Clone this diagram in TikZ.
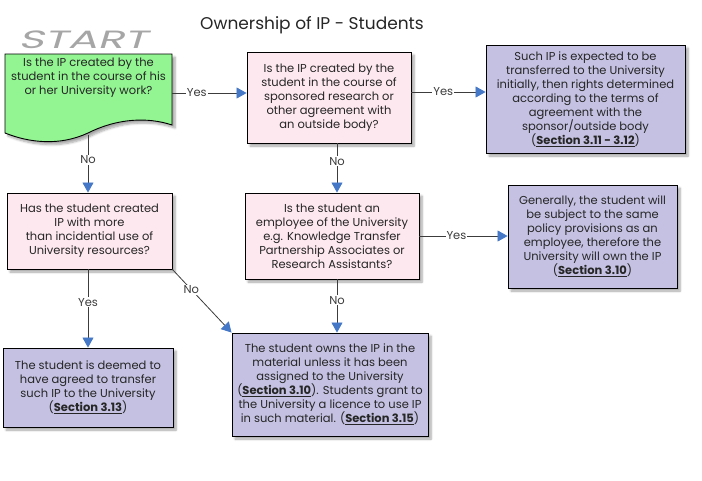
\documentclass[tikz,border=0pt]{standalone}
\usepackage{fontspec}
\setmainfont{Poppins}
\newfontfamily\startfont[FakeSlant=0.3,FakeStretch=1.75]{Poppins}
\usetikzlibrary{arrows.meta,shadows.blur}
\definecolor{startgreen}{RGB}{146,245,146}
\definecolor{qpink}{RGB}{253,232,239}
\definecolor{apurple}{RGB}{196,193,226}
\definecolor{tipblue}{RGB}{70,120,200}
\definecolor{linegray}{RGB}{60,60,60}
\newcommand{\ipsec}[1]{\underline{\textbf{#1}}}
\tikzset{
  boxtext/.style={inner sep=2pt, align=center, text=black!85,
    font=\fontsize{11.5}{14}\selectfont},
  myshadow/.style={blur shadow={shadow xshift=3pt, shadow yshift=-3pt,
    shadow blur steps=6, shadow opacity=35}},
  box/.style={boxtext, draw=black, line width=0.9pt, myshadow},
  question/.style={box, fill=qpink},
  answer/.style={box, fill=apurple},
  flow/.style={draw=linegray, line width=0.8pt,
    -{Triangle[length=10pt,width=11pt,color=tipblue,fill=tipblue]}},
  lbl/.style={fill=white, inner sep=1pt, text=linegray,
    font=\fontsize{11.5}{13}\selectfont},
}
\begin{document}
\begin{tikzpicture}[x=1pt,y=-1pt]
\useasboundingbox (0,0) rectangle (702,480);
% titolo
\node[font=\fontsize{17}{20}\selectfont, text=black!85] (title) at (312,25) {Ownership of IP - Students};
\node[font=\startfont\fontsize{25}{25}\selectfont, text=gray!70] (startlbl) at (83,40) {START};
% inizio
\path[draw=black, line width=0.9pt, fill=startgreen, myshadow]
  (5,54) -- (172,54) -- (172,125)
  .. controls (148,117) and (118,118) .. (88,133)
  .. controls (60,146) and (30,143) .. (5,133) -- cycle;
\node[boxtext, anchor=north, minimum width=167pt] (start) at (88.5,56)
  {Is the IP created by the\\student in the course of his\\or her University work?};
\coordinate (startb) at (88,135);
% domande
\node[question, minimum width=164pt, minimum height=91pt] (sponsor) at (329,97.5)
  {Is the IP created by the\\student in the course of\\sponsored research or\\other agreement with\\an outside body?};
\node[question, minimum width=165pt, minimum height=76pt] (resources) at (89.5,231)
  {Has the student created\\IP with more\\than incidential use of\\University resources?};
\node[question, minimum width=174pt, minimum height=86pt] (employee) at (332,236)
  {Is the student an\\employee of the University\\e.g. Knowledge Transfer\\Partnership Associates or\\Research Assistants?};
% risposte
\node[answer, minimum width=199pt, minimum height=108pt] (transfer) at (585.5,99)
  {Such IP is expected to be\\transferred to the University\\initially, then rights determined\\according to the terms of\\agreement with the\\sponsor/outside body\\(\ipsec{Section 3.11 - 3.12})};
\node[answer, minimum width=169pt, minimum height=103pt] (policy) at (592.5,236.5)
  {Generally, the student will\\be subject to the same\\policy provisions as an\\employee, therefore the\\University will own the IP\\(\ipsec{Section 3.10})};
\node[answer, minimum width=170pt, minimum height=79pt] (deemed) at (88,387.5)
  {The student is deemed to\\have agreed to transfer\\such IP to the University\\(\ipsec{Section 3.13})};
\node[answer, minimum width=196pt, minimum height=103pt] (owns) at (330,384.5)
  {The student owns the IP in the\\material unless it has been\\assigned to the University\\(\ipsec{Section 3.10}). Students grant to\\the University a licence to use IP\\in such material. (\ipsec{Section 3.15})};
% frecce
\draw[flow] ([yshift=4.5pt]sponsor.west -| start.east) -- node[lbl, pos=0.33] {Yes} ([yshift=4.5pt]sponsor.west);
\draw[flow] ([yshift=5.5pt]sponsor.east) -- node[lbl, pos=0.43] {Yes} ([yshift=5.5pt]sponsor.east -| transfer.west);
\draw[flow] (startb) -- node[lbl, pos=0.43] {No} (startb |- resources.north);
\draw[flow] ([xshift=8pt]sponsor.south) -- node[lbl, pos=0.36] {No} ([xshift=8pt]sponsor.south |- employee.north);
\draw[flow] (employee.east) -- node[lbl, pos=0.42] {Yes} (employee.east -| policy.west);
\draw[flow] ([xshift=-1.5pt]resources.south) -- node[lbl, pos=0.42] {Yes} ([xshift=-1.5pt]resources.south |- deemed.north);
\draw[flow] (resources.south east) -- node[lbl, pos=0.32] {No} (owns.north west);
\draw[flow] ([xshift=5pt]employee.south) -- node[lbl, pos=0.39] {No} ([xshift=5pt]employee.south |- owns.north);
\end{tikzpicture}
\end{document}
